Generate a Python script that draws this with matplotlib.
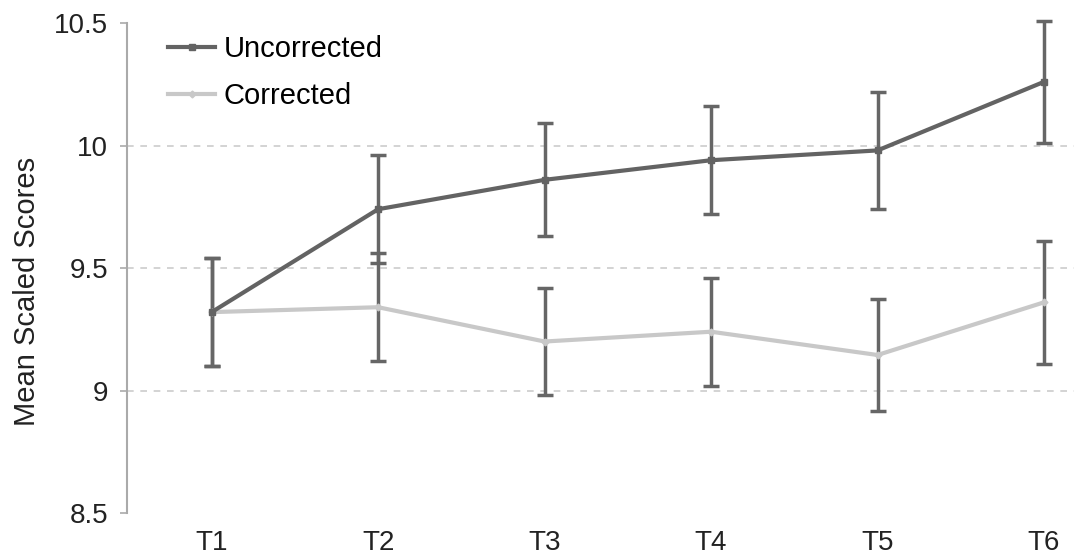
import matplotlib.pyplot as plt
import numpy as np

# Time points
times = ['T1', 'T2', 'T3', 'T4', 'T5', 'T6']

# Mean scaled scores and error bar half-widths
uncorrected = [9.32, 9.74, 9.86, 9.94, 9.98, 10.26]
uncorrected_err = [0.22, 0.22, 0.23, 0.22, 0.24, 0.25]
corrected = [9.32, 9.34, 9.20, 9.24, 9.145, 9.36]
corrected_err = [0.22, 0.22, 0.22, 0.22, 0.23, 0.25]

plt.rcParams['font.family'] = ['Liberation Sans', 'DejaVu Sans']

fig = plt.figure(figsize=(10.74, 5.56), dpi=100)
ax = fig.add_axes([0.118, 0.0773, 0.882, 0.8813])

x = np.arange(len(times))

# Error bars (dark gray for both series)
for vals, errs in [(corrected, corrected_err), (uncorrected, uncorrected_err)]:
    eb = ax.errorbar(x, vals, yerr=errs, fmt='none', ecolor='#666666',
                     elinewidth=2.5, capsize=6, capthick=2.5, zorder=2)
    for artist in eb.lines[1] + eb.lines[2]:
        artist.set_clip_on(False)

# Lines
ax.plot(x, corrected, color='#c8c8c8', lw=3, marker='D', ms=3.5,
        label='Corrected', zorder=3)
ax.plot(x, uncorrected, color='#636363', lw=3, marker='s', ms=5,
        label='Uncorrected', zorder=4)

ax.set_xlim(-0.51, 5.18)
ax.set_ylim(8.5, 10.5)
ax.set_yticks([8.5, 9, 9.5, 10, 10.5])
ax.set_yticklabels(['8.5', '9', '9.5', '10', '10.5'])
ax.set_xticks(x)
ax.set_xticklabels(times)

# Dashed gridlines at inner ticks
for yv in [9, 9.5, 10]:
    ax.axhline(yv, color='#cccccc', lw=1.2, ls=(0, (4, 4)), zorder=1)

for side in ['top', 'right', 'bottom']:
    ax.spines[side].set_visible(False)
ax.spines['left'].set_color('#aaaaaa')
ax.spines['left'].set_linewidth(1.5)

ax.tick_params(axis='y', length=5, width=1.2, color='#aaaaaa', labelsize=20,
               pad=8.5, labelcolor='#222222')
ax.tick_params(axis='x', length=0, labelsize=20, pad=12, labelcolor='#222222')

fig.text(27 / 1074, 1 - 291 / 556, 'Mean Scaled Scores', rotation=90,
         ha='center', va='center', fontsize=21, color='#222222')

handles, labels = ax.get_legend_handles_labels()
ax.legend(handles[::-1], labels[::-1], loc='upper left', frameon=False,
          fontsize=21, bbox_to_anchor=(0.044, 0.975), borderaxespad=0,
          borderpad=0, handlelength=1.6, labelspacing=0.65,
          handletextpad=0.3)

plt.savefig('out.png', dpi=100)
